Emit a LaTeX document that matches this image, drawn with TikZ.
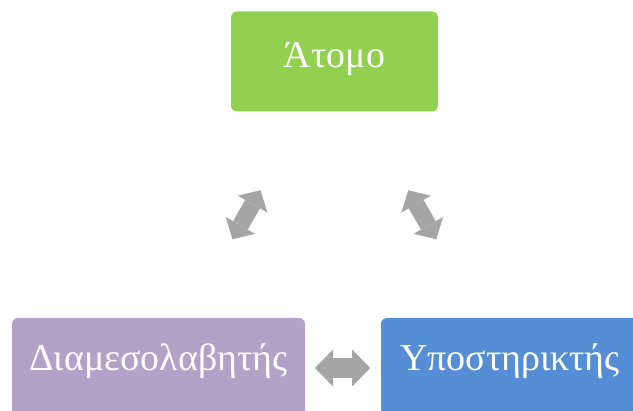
\documentclass[tikz,border=0pt]{standalone}
\usepackage{fontspec}
\setmainfont{Liberation Serif}
\usetikzlibrary{calc,arrows.meta}
\definecolor{atomgreen}{HTML}{92D050}
\definecolor{mesolpurple}{HTML}{B2A2C7}
\definecolor{ypostblue}{HTML}{558ED5}
\definecolor{arrowgray}{HTML}{A5A5A5}

\begin{document}
\begin{tikzpicture}[x=1pt,y=-1pt,
	box/.style={rounded corners=6pt, minimum height=100pt, inner sep=0pt, text height=28pt, text depth=15pt, text=white, font=\fontsize{38}{45}\selectfont},
	twoway/.style={draw=arrowgray, line width=20pt, {Triangle[length=18pt,width=37pt,line width=0pt]}-{Triangle[length=18pt,width=37pt,line width=0pt]}},
	smallway/.style={draw=arrowgray, line width=17pt, {Triangle[length=16pt,width=34pt,line width=0pt]}-{Triangle[length=16pt,width=34pt,line width=0pt]}}]
	\clip (0,0) rectangle (633,411);
	\node[box, fill=atomgreen, minimum width=207pt] (atomo) at (334.5,61.5) {Άτομο};
	\node[box, fill=mesolpurple, minimum width=293pt, text depth=22pt] (mesol) at (158.5,368) {Διαμεσολαβητής};
	\node[box, fill=ypostblue, minimum width=258pt, text depth=22pt] (ypost) at (510,368) {Υποστηρικτής};
	% block arrows between the boxes
	\draw[smallway] ($(mesol)!0.42!(atomo)$) -- ($(mesol)!0.58!(atomo)$);
	\draw[smallway] ($(atomo)!0.42!(ypost)$) -- ($(atomo)!0.58!(ypost)$);
	\draw[twoway] ($(mesol.east)!0.13!(ypost.west)$) -- ($(mesol.east)!0.86!(ypost.west)$);
\end{tikzpicture}
\end{document}
